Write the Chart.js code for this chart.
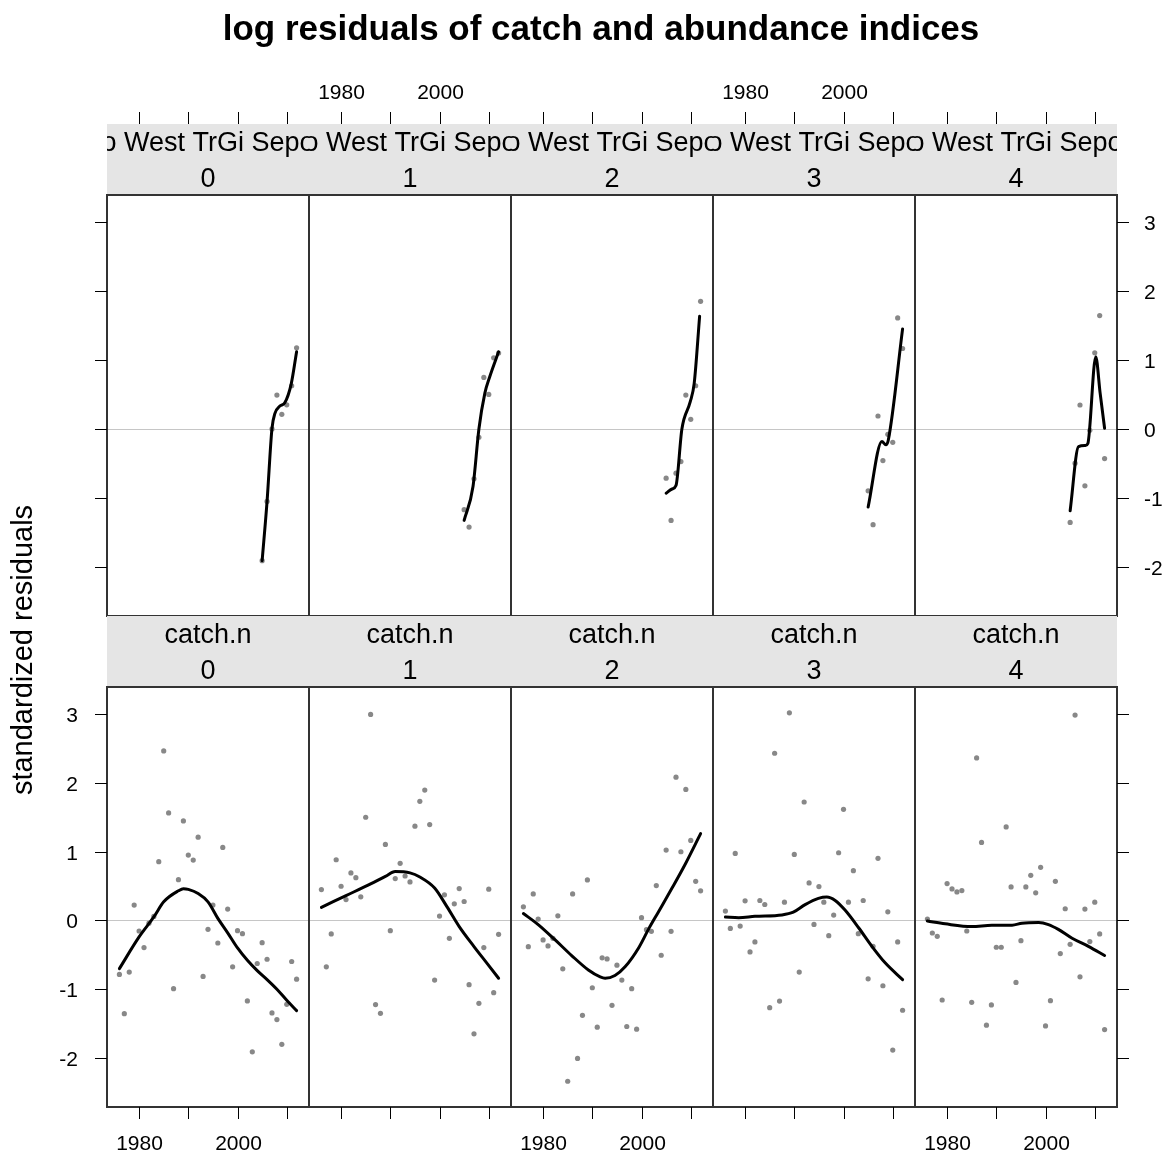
<!DOCTYPE html>
<html><head><meta charset="utf-8">
<script src="https://cdn.jsdelivr.net/npm/chart.js@4.4.1/dist/chart.umd.min.js"></script>
<style>
html,body{margin:0;padding:0;background:#fff;}
#wrap{position:relative;width:1168px;height:1158px;overflow:hidden;background:#fff;}
#wrap canvas{position:absolute;left:0;top:0;}
</style>
</head><body><div id="wrap"></div>
<script>
// ---------------- data ----------------
const titleText = "log residuals of catch and abundance indices";
const yLabelText = "standardized residuals";
const ages = ["0","1","2","3","4"];
const indexName = "o West TrGi Sepo";
const catchName = "catch.n";
const xTickValues = [1980, 1990, 2000, 2010];
const xTickLabels = ["1980", "", "2000", ""];
const yTickValues = [-2, -1, 0, 1, 2, 3];
const yTickLabels = ["-2", "-1", "0", "1", "2", "3"];

const catchYears = [1976,1977,1978,1979,1980,1981,1982,1983,1984,1985,1986,1987,1988,1989,1990,1991,1992,1993,1994,1995,1996,1997,1998,1999,2000,2001,2002,2003,2004,2005,2006,2007,2008,2009,2010,2011,2012];
const catchResid0 = [-0.785,-1.354,-0.751,0.222,-0.154,-0.395,-0.04,0.058,0.853,2.461,1.561,-0.992,0.592,1.445,0.949,0.877,1.209,-0.814,-0.13,0.222,-0.328,1.06,0.164,-0.674,-0.149,-0.193,-1.17,-1.908,-0.626,-0.323,-0.564,-1.344,-1.44,-1.8,-1.219,-0.597,-0.853];
const catchResid1 = [0.448,-0.674,-0.197,0.881,0.496,0.303,0.689,0.621,0.342,1.498,2.991,-1.223,-1.349,1.103,-0.149,0.607,0.829,0.645,0.559,1.368,1.729,1.893,1.392,-0.867,0.063,0.371,-0.26,0.241,0.462,0.275,-0.934,-1.647,-1.204,-0.395,0.453,-1.05,-0.202];
const catchResid2 = [0.197,-0.381,0.385,0.019,-0.284,-0.371,-0.26,0.067,-0.703,-2.336,0.385,-2.004,-1.378,0.588,-0.978,-1.551,-0.544,-0.559,-1.233,-0.65,-0.867,-1.541,-0.992,-1.58,0.039,-0.135,-0.159,0.506,-0.506,1.021,-0.159,2.081,0.997,1.903,1.161,0.568,0.429];
const catchResid3 = [0.135,-0.116,0.973,-0.082,0.284,-0.458,-0.313,0.289,0.231,-1.267,2.428,-1.171,0.265,3.015,0.959,-0.751,1.72,0.544,-0.058,0.491,0.265,-0.222,0.077,0.983,1.614,0.265,0.723,-0.193,0.289,-0.848,-0.376,0.901,-0.949,0.125,-1.883,-0.313,-1.305];
const catchResid4 = [0.019,-0.183,-0.231,-1.156,0.535,0.458,0.414,0.434,-0.154,-1.19,2.36,1.132,-1.522,-1.228,-0.39,-0.39,1.358,0.487,-0.901,-0.294,0.487,0.655,0.4,0.771,-1.532,-1.166,0.568,-0.482,0.169,-0.347,2.982,-0.819,0.164,-0.308,0.265,-0.197,-1.585];

const catchSmoothX0 = [1976,1980,1983,1985,1988,1989,1990,1992,1994,1996,1998,2000,2002,2004,2006,2008,2010,2012];
const catchSmooth0  = [-0.70,-0.24,0.05,0.27,0.43,0.46,0.45,0.39,0.27,0.03,-0.18,-0.40,-0.58,-0.73,-0.86,-1.0,-1.16,-1.31];
const catchSmoothX1 = [1976,1981,1986,1989,1991,1994,1996,1999,2001.5,2004,2007,2009.5,2012];
const catchSmooth1  = [0.19,0.36,0.53,0.64,0.71,0.69,0.63,0.47,0.20,-0.09,-0.38,-0.61,-0.84];
const catchSmoothX2 = [1976,1979,1982.4,1985.8,1989.2,1991.6,1992.6,1994.6,1996.7,1999.4,2001.4,2003.4,2006.2,2008.9,2012];
const catchSmooth2  = [0.10,-0.06,-0.28,-0.51,-0.72,-0.82,-0.84,-0.80,-0.67,-0.40,-0.13,0.12,0.47,0.82,1.26];
const catchSmoothX3 = [1976,1978.7,1982,1987.5,1989.8,1992.2,1994.9,1996.6,1998.3,2000.3,2003.1,2005.8,2008.5,2012];
const catchSmooth3  = [0.05,0.04,0.06,0.08,0.12,0.23,0.32,0.34,0.29,0.15,-0.11,-0.38,-0.62,-0.86];
const catchSmoothX4 = [1976,1979.6,1985,1989.1,1993.2,1995.2,1998.6,2000.6,2002.6,2005.4,2008.8,2012];
const catchSmooth4  = [-0.01,-0.05,-0.09,-0.07,-0.07,-0.04,-0.03,-0.06,-0.13,-0.26,-0.38,-0.51];

const indexYears = [2005,2006,2007,2008,2009,2010,2011,2012];
const indexResid0 = [-1.908,-1.05,0.0,0.491,0.212,0.35,0.626,1.175];
const indexResid1 = [-1.17,-1.421,-0.723,-0.12,0.747,0.501,1.031,1.1];
const indexResid2 = [-0.713,-1.325,-0.641,-0.472,0.491,0.14,0.626,1.85];
const indexResid3 = [-0.896,-1.387,0.188,-0.458,-0.077,-0.193,1.609,1.166];
const indexResid4 = [-1.354,-0.496,0.347,-0.824,-0.02,1.103,1.643,-0.429];

const indexSmoothX0 = [2005,2006,2007,2007.6,2008.6,2009.6,2010.9,2012];
const indexSmooth0  = [-1.908,-1.05,0.01,0.226,0.332,0.38,0.65,1.12];
const indexSmoothX1 = [2005,2006.8,2008.0,2009.2,2010.2,2012];
const indexSmooth1  = [-1.325,-0.833,0,0.515,0.756,1.118];
const indexSmoothX2 = [2005,2006.2,2007,2008.2,2009.9,2010.7,2011.8];
const indexSmooth2  = [-0.93,-0.87,-0.82,0,0.395,0.66,1.633];
const indexSmoothX3 = [2005,2007.8,2008.6,2009.1,2012];
const indexSmooth3  = [-1.13,-0.18,-0.23,-0.16,1.45];
const indexSmoothX4 = [2005,2006.7,2008.1,2008.6,2010.2,2011.1,2012];
const indexSmooth4  = [-1.185,-0.255,-0.24,-0.21,1.045,0.515,0.01];

// ---------------- layout ----------------
const W = 1168, H = 1158;
const FONT = '"Liberation Sans", Arial, Helvetica, sans-serif';
const colLeft = [107, 309, 511, 713, 915];
const panelW = 202;
const rowTop = [195, 687];
const rowBottom = [616, 1107];
const stripH = 71;
const tickLen = 12;
const XMIN = 1973.48, XMAX = 2014.52, YMIN = -2.71, YMAX = 3.39;

function pts(xs, ys) { return xs.map((x, i) => ({x: x, y: ys[i]})); }

const panelDeco = {
  id: 'panelDeco',
  beforeDatasetsDraw(chart, args, o) {
    const {ctx, chartArea: a, scales: {y}} = chart;
    ctx.save();
    ctx.strokeStyle = '#c6c6c6'; ctx.lineWidth = 1;
    const y0 = Math.round(y.getPixelForValue(0)) + 0.5;
    ctx.beginPath(); ctx.moveTo(a.left, y0); ctx.lineTo(a.right, y0); ctx.stroke();
    ctx.restore();
  },
  afterDraw(chart, args, o) {
    const {ctx, chartArea: a, scales: {x, y}} = chart;
    const w = a.right - a.left;
    const sTop = a.top - stripH;
    ctx.save();
    // strip
    ctx.fillStyle = '#e5e5e5';
    ctx.fillRect(a.left, sTop, w, stripH);
    ctx.save();
    ctx.beginPath(); ctx.rect(a.left, sTop, w, stripH); ctx.clip();
    ctx.fillStyle = '#000';
    ctx.font = '27px ' + FONT;
    ctx.textAlign = 'center'; ctx.textBaseline = 'alphabetic';
    const cx = (a.left + a.right) / 2;
    ctx.fillText(o.line1, cx, sTop + stripH * 0.25 + 9.5);
    ctx.fillText(o.line2, cx, sTop + stripH * 0.75 + 9.5);
    ctx.restore();
    // border
    ctx.strokeStyle = '#333'; ctx.lineWidth = 2;
    ctx.strokeRect(a.left, a.top, w, a.bottom - a.top);
    // ticks
    ctx.strokeStyle = '#000'; ctx.lineWidth = 1;
    ctx.fillStyle = '#000';
    ctx.font = '21px ' + FONT;
    xTickValues.forEach((v, i) => {
      const px = Math.round(x.getPixelForValue(v)) + 0.5;
      ctx.beginPath();
      if (o.row === 0) { ctx.moveTo(px, sTop - tickLen); ctx.lineTo(px, sTop); }
      else { ctx.moveTo(px, a.bottom); ctx.lineTo(px, a.bottom + tickLen); }
      ctx.stroke();
      const lab = xTickLabels[i];
      if (lab) {
        ctx.textAlign = 'center'; ctx.textBaseline = 'alphabetic';
        if (o.row === 0 && o.col % 2 === 1) ctx.fillText(lab, px, 99);
        if (o.row === 1 && o.col % 2 === 0) ctx.fillText(lab, px, 1150);
      }
    });
    yTickValues.forEach((v, i) => {
      const py = Math.round(y.getPixelForValue(v)) + 0.5;
      ctx.textBaseline = 'alphabetic';
      if (o.col === 0) {
        ctx.beginPath(); ctx.moveTo(a.left - tickLen, py); ctx.lineTo(a.left, py); ctx.stroke();
        if (o.row === 1) { ctx.textAlign = 'right'; ctx.fillText(yTickLabels[i], a.left - 29, py + 7.5); }
      }
      if (o.col === 4) {
        ctx.beginPath(); ctx.moveTo(a.right, py); ctx.lineTo(a.right + tickLen, py); ctx.stroke();
        if (o.row === 0) { ctx.textAlign = 'left'; ctx.fillText(yTickLabels[i], a.right + 27, py + 7.5); }
      }
    });
    if (o.drawTitles) {
      ctx.fillStyle = '#000';
      ctx.font = 'bold 35px ' + FONT;
      ctx.textAlign = 'center'; ctx.textBaseline = 'alphabetic';
      ctx.fillText(titleText, 601, 40);
      ctx.save();
      ctx.translate(32, 650); ctx.rotate(-Math.PI / 2);
      ctx.font = '29px ' + FONT;
      ctx.fillText(yLabelText, 0, 0);
      ctx.restore();
    }
    ctx.restore();
  }
};

const indexResid = [indexResid0, indexResid1, indexResid2, indexResid3, indexResid4];
const indexSmoothX = [indexSmoothX0, indexSmoothX1, indexSmoothX2, indexSmoothX3, indexSmoothX4];
const indexSmooth = [indexSmooth0, indexSmooth1, indexSmooth2, indexSmooth3, indexSmooth4];
const catchResid = [catchResid0, catchResid1, catchResid2, catchResid3, catchResid4];
const catchSmoothX = [catchSmoothX0, catchSmoothX1, catchSmoothX2, catchSmoothX3, catchSmoothX4];
const catchSmooth = [catchSmooth0, catchSmooth1, catchSmooth2, catchSmooth3, catchSmooth4];

const wrap = document.getElementById('wrap');
function makePanel(row, col) {
  const cv = document.createElement('canvas');
  cv.width = W; cv.height = H;
  wrap.appendChild(cv);
  const L = colLeft[col], R = L + panelW, T = rowTop[row], B = rowBottom[row];
  const resid = row === 0 ? pts(indexYears, indexResid[col]) : pts(catchYears, catchResid[col]);
  const smooth = row === 0 ? pts(indexSmoothX[col], indexSmooth[col]) : pts(catchSmoothX[col], catchSmooth[col]);
  new Chart(cv, {
    type: 'scatter',
    data: { datasets: [
      { type: 'line', data: smooth, borderColor: '#000', borderWidth: 3, pointRadius: 0,
        cubicInterpolationMode: 'monotone', fill: false, order: 0, borderCapStyle: 'round', borderJoinStyle: 'round' },
      { type: 'scatter', data: resid, pointRadius: 2.6, pointHoverRadius: 2.6,
        backgroundColor: '#888888', borderWidth: 0, order: 1 }
    ]},
    options: {
      responsive: false, animation: false, devicePixelRatio: 1, events: [],
      layout: { padding: { left: L, right: W - R, top: T, bottom: H - B } },
      scales: {
        x: { type: 'linear', min: XMIN, max: XMAX, display: false },
        y: { type: 'linear', min: YMIN, max: YMAX, display: false }
      },
      plugins: {
        legend: { display: false }, tooltip: { enabled: false },
        panelDeco: { row: row, col: col, line1: row === 0 ? indexName : catchName, line2: ages[col],
                     drawTitles: row === 0 && col === 0 }
      }
    },
    plugins: [panelDeco]
  });
}
for (let r = 0; r < 2; r++) for (let c = 0; c < 5; c++) makePanel(r, c);
</script>
</body></html>
